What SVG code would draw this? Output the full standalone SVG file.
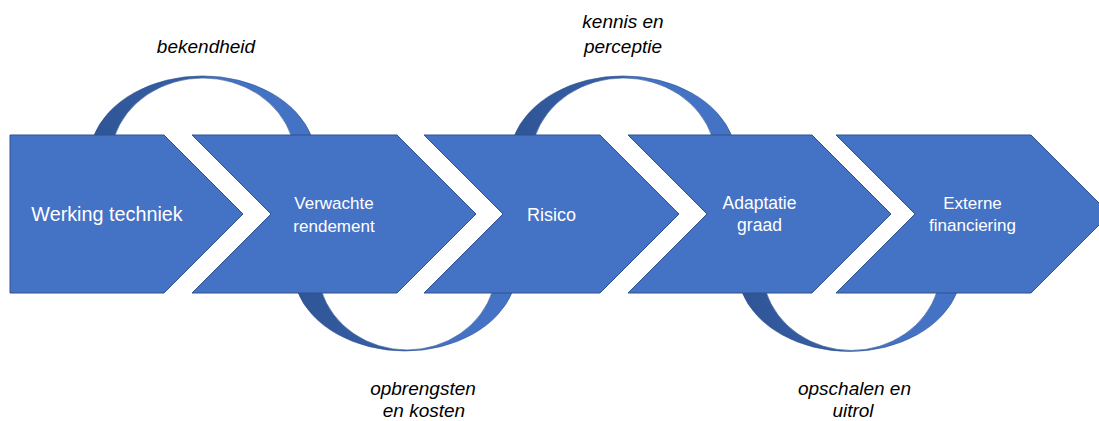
<svg xmlns="http://www.w3.org/2000/svg" width="1099" height="421" viewBox="0 0 1099 421">
  <defs>
    <linearGradient id="ringShade" x1="0" y1="0" x2="1" y2="0">
      <stop offset="0" stop-color="#2F5596"/>
      <stop offset="0.48" stop-color="#3760A8"/>
      <stop offset="0.53" stop-color="#4472C4"/>
      <stop offset="1" stop-color="#4472C4"/>
    </linearGradient>
    <style>
      .chev { fill: #4472C4; stroke: #2F528F; stroke-width: 1; }
      .ring { fill: url(#ringShade); stroke: #2F528F; stroke-width: 0.6; fill-rule: evenodd; }
      .lbl { font-family: "Liberation Sans", Arial, sans-serif; fill: #FFFFFF; text-anchor: middle; }
      .cap { font-family: "Liberation Sans", Arial, sans-serif; font-style: italic; font-size: 19px; fill: #000000; text-anchor: middle; }
    </style>
  </defs>
  <rect width="1099" height="421" fill="#FFFFFF"/>

  <g id="connectors">
    <path id="ring-top-1" class="ring" d="M93.2,137 A113.6,84 0 0 1 311.8,137 L291.7,137 A92.4,82 0 0 0 114.3,137 Z"/>
    <path id="ring-top-2" class="ring" transform="translate(420.5,0)" d="M93.2,137 A113.6,84 0 0 1 311.8,137 L291.7,137 A92.4,82 0 0 0 114.3,137 Z"/>
    <path id="ring-bottom-1" class="ring" d="M297.2,291 A112.2,83 0 0 0 512.8,291 L492.6,291 A89.2,82 0 0 1 321.4,291 Z"/>
    <path id="ring-bottom-2" class="ring" transform="translate(444.5,0.5)" d="M297.2,291 A112.2,83 0 0 0 512.8,291 L492.6,291 A89.2,82 0 0 1 321.4,291 Z"/>
  </g>

  <g id="node-werking">
    <polygon class="chev" points="10,135 164,135 243,214 164,293 10,293"/>
    <text class="lbl" x="107" y="221" font-size="19.8">Werking techniek</text>
  </g>
  <g id="node-rendement">
    <polygon class="chev" points="192,135 397,135 476,214 397,293 192,293 271,214"/>
    <text class="lbl" x="334" y="209" font-size="17">Verwachte</text>
    <text class="lbl" x="334" y="232" font-size="17">rendement</text>
  </g>
  <g id="node-risico">
    <polygon class="chev" points="424,135 600,135 679,214 600,293 424,293 503,214"/>
    <text class="lbl" x="551.5" y="221" font-size="18">Risico</text>
  </g>
  <g id="node-adaptatie">
    <polygon class="chev" points="628,135 812,135 891,214 812,293 628,293 707,214"/>
    <text class="lbl" x="759.5" y="209" font-size="17.5">Adaptatie</text>
    <text class="lbl" x="759.5" y="231" font-size="17.5">graad</text>
  </g>
  <g id="node-financiering">
    <polygon class="chev" points="836,135 1031,135 1110,214 1031,293 836,293 915,214"/>
    <text class="lbl" x="972.5" y="209" font-size="17">Externe</text>
    <text class="lbl" x="972.5" y="231" font-size="17">financiering</text>
  </g>

  <g id="labels">
    <text class="cap" x="206" y="53">bekendheid</text>
    <text class="cap" x="623" y="28">kennis en</text>
    <text class="cap" x="623" y="53">perceptie</text>
    <text class="cap" x="423" y="395">opbrengsten</text>
    <text class="cap" x="424" y="417">en kosten</text>
    <text class="cap" x="854.5" y="395">opschalen en</text>
    <text class="cap" x="853" y="417">uitrol</text>
  </g>
</svg>
